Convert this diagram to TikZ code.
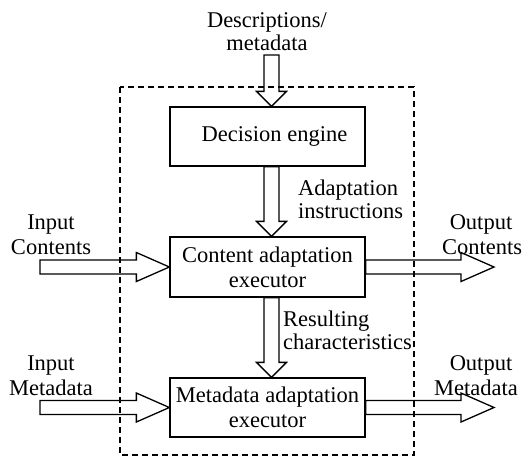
\documentclass[tikz,border=0pt]{standalone}
\usepackage{fontspec}
\setmainfont{Liberation Serif}
\usetikzlibrary{calc}

\tikzset{
  procbox/.style={draw, line width=1.3pt, minimum width=195pt, inner sep=0pt,
                  align=center, font=\fontsize{22.5}{25}\selectfont},
  lbl/.style={inner sep=0pt, font=\fontsize{22.5}{25}\selectfont},
  frame/.style={line width=1.2pt, dash pattern=on 6pt off 4pt},
  blockarrow/.style={line width=1.3pt, line join=miter},
}

% Hollow block arrow pointing right, from #1 to the tip at #2 (same height as #1)
\newcommand{\hblockarrow}[2]{%
  \draw[blockarrow] let \p1=(#1), \p2=(#2) in
    (\x1,\y1+7pt) -- (\x2-33pt,\y1+7pt) -- (\x2-33pt,\y1+14.5pt) -- (\x2,\y1)
    -- (\x2-33pt,\y1-14.5pt) -- (\x2-33pt,\y1-7pt) -- (\x1,\y1-7pt) -- cycle;}
% Hollow block arrow pointing down, from #1 to the tip at #2 (same x as #1)
\newcommand{\vblockarrow}[2]{%
  \draw[blockarrow] let \p1=(#1), \p2=(#2) in
    (\x1-7.5pt,\y1) -- (\x1-7.5pt,\y2+15pt) -- (\x1-15pt,\y2+15pt) -- (\x1,\y2)
    -- (\x1+15pt,\y2+15pt) -- (\x1+7.5pt,\y2+15pt) -- (\x1+7.5pt,\y1) -- cycle;}

\begin{document}
\begin{tikzpicture}[x=1pt, y=-1pt]
  \useasboundingbox (0,0) rectangle (525,459);

  % adaptation engine boundary
  \draw[frame] (120,87) rectangle (414,455);

  % processing blocks
  \node[procbox, minimum height=59pt] (dec)  at (267.5,136.5) {\hspace*{14pt}Decision engine};
  \node[procbox, minimum height=60pt] (cont) at (267.5,267)   {Content adaptation\\executor};
  \node[procbox, minimum height=59pt] (meta) at (267.5,407.5) {Metadata adaptation\\executor};

  % arrow end points
  \coordinate (descIn) at (271.5,55);
  \coordinate (decTop) at ($(dec.north)+(4,0)$);
  \coordinate (decBot) at ($(dec.south)+(4,0)$);
  \coordinate (contTop) at ($(cont.north)+(4,0)$);
  \coordinate (contBot) at ($(cont.south)+(4,0)$);
  \coordinate (metaTop) at ($(meta.north)+(4,0)$);
  \coordinate (inC)  at (40,267);
  \coordinate (inM)  at (40,407.5);
  \coordinate (outC) at (494,267);
  \coordinate (outM) at (494,407.5);

  % block arrows
  \vblockarrow{descIn}{decTop}
  \vblockarrow{decBot}{contTop}
  \vblockarrow{contBot}{metaTop}
  \hblockarrow{inC}{cont.west}
  \hblockarrow{inM}{meta.west}
  \hblockarrow{cont.east}{outC}
  \hblockarrow{meta.east}{outM}

  % labels
  \node[lbl, anchor=base] (lDesc1) at (267,27) {Descriptions/};
  \node[lbl, anchor=base] (lDesc2) at (267,50) {metadata};
  \node[lbl, anchor=base west] (lAd1) at (298,195) {Adaptation};
  \node[lbl, anchor=base west] (lAd2) at (298,218) {instructions};
  \node[lbl, anchor=base west] (lRes1) at (283,326) {Resulting};
  \node[lbl, anchor=base west] (lRes2) at (283,349) {characteristics};
  \node[lbl, anchor=base] (lInC1) at (51,229) {Input};
  \node[lbl, anchor=base] (lInC2) at (51,254) {Contents};
  \node[lbl, anchor=base] (lOutC1) at (481,229) {Output};
  \node[lbl, anchor=base] (lOutC2) at (482,254) {Contents};
  \node[lbl, anchor=base] (lInM1) at (51,370) {Input};
  \node[lbl, anchor=base] (lInM2) at (51,395) {Metadata};
  \node[lbl, anchor=base] (lOutM1) at (481,370) {Output};
  \node[lbl, anchor=base] (lOutM2) at (476,395) {Metadata};
\end{tikzpicture}
\end{document}
